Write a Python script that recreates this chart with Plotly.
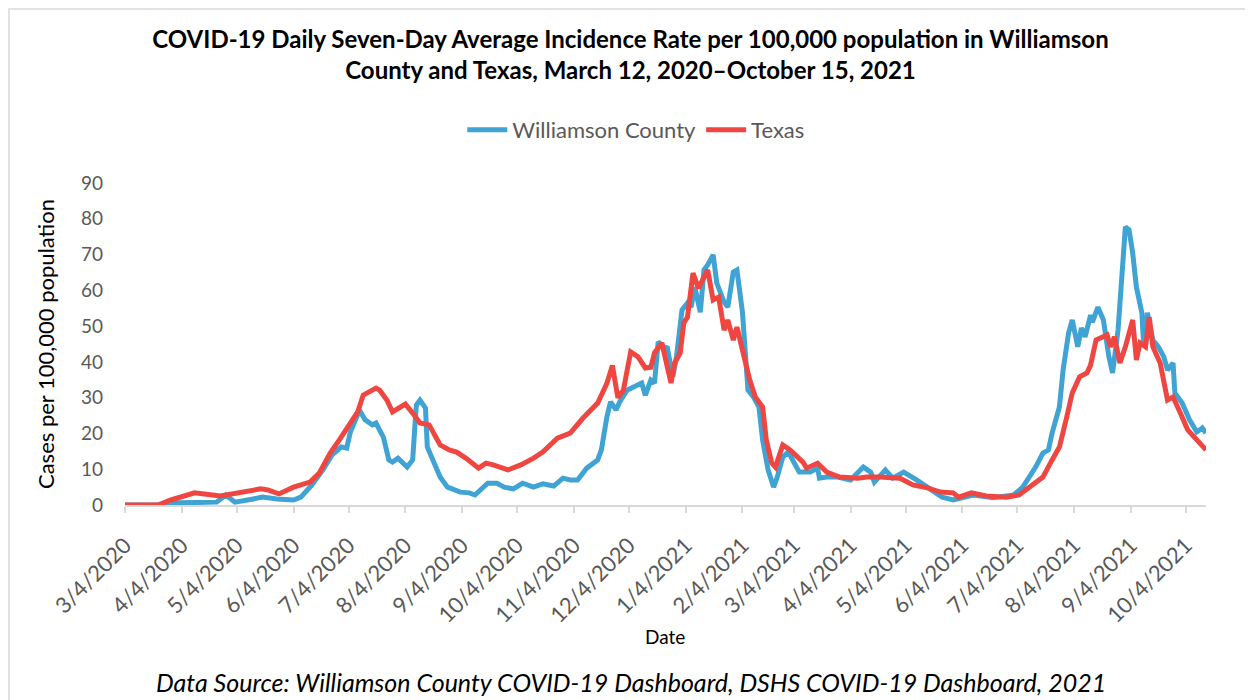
import plotly.graph_objects as go

# Williamson County, 7-day avg incidence per 100k
wc_dates = ['2020-03-04', '2020-03-25', '2020-04-01', '2020-04-16', '2020-04-23', '2020-04-28', '2020-05-03',
            '2020-05-13', '2020-05-18', '2020-05-26', '2020-06-04', '2020-06-08', '2020-06-14', '2020-06-20',
            '2020-06-25', '2020-06-30', '2020-07-03', '2020-07-05', '2020-07-10', '2020-07-13', '2020-07-17',
            '2020-07-19', '2020-07-23', '2020-07-26', '2020-07-28', '2020-07-31', '2020-08-05', '2020-08-08',
            '2020-08-10', '2020-08-12', '2020-08-15', '2020-08-16', '2020-08-18', '2020-08-23', '2020-08-27',
            '2020-09-03', '2020-09-08', '2020-09-11', '2020-09-18', '2020-09-23', '2020-09-27', '2020-10-02',
            '2020-10-07', '2020-10-13', '2020-10-18', '2020-10-24', '2020-10-29', '2020-11-02', '2020-11-06',
            '2020-11-11', '2020-11-17', '2020-11-19', '2020-11-22', '2020-11-24', '2020-11-27', '2020-11-29',
            '2020-12-03', '2020-12-09', '2020-12-11', '2020-12-13', '2020-12-16', '2020-12-18', '2020-12-20',
            '2020-12-23', '2020-12-25', '2020-12-28', '2020-12-30', '2021-01-02', '2021-01-05', '2021-01-07',
            '2021-01-09', '2021-01-12', '2021-01-14', '2021-01-16', '2021-01-19', '2021-01-21', '2021-01-25',
            '2021-01-27', '2021-01-30', '2021-02-01', '2021-02-03', '2021-02-04', '2021-02-07', '2021-02-10',
            '2021-02-13', '2021-02-15', '2021-02-18', '2021-02-21', '2021-02-23', '2021-02-26', '2021-03-01',
            '2021-03-07', '2021-03-13', '2021-03-17', '2021-03-18', '2021-03-22', '2021-03-28', '2021-04-04',
            '2021-04-11', '2021-04-15', '2021-04-17', '2021-04-23', '2021-04-27', '2021-05-03', '2021-05-10',
            '2021-05-17', '2021-05-24', '2021-05-30', '2021-06-10', '2021-06-21', '2021-07-02', '2021-07-07',
            '2021-07-10', '2021-07-14', '2021-07-18', '2021-07-21', '2021-07-23', '2021-07-27', '2021-07-29',
            '2021-08-01', '2021-08-03', '2021-08-06', '2021-08-08', '2021-08-10', '2021-08-13', '2021-08-14',
            '2021-08-17', '2021-08-20', '2021-08-23', '2021-08-25', '2021-08-28', '2021-08-30', '2021-09-01',
            '2021-09-03', '2021-09-05', '2021-09-07', '2021-09-10', '2021-09-11', '2021-09-13', '2021-09-16',
            '2021-09-19', '2021-09-22', '2021-09-24', '2021-09-27', '2021-09-28', '2021-10-02', '2021-10-06',
            '2021-10-10', '2021-10-13', '2021-10-15']
wc_values = [0.0, 0.0, 0.6, 0.6, 0.8, 2.8, 0.8,
             1.7, 2.2, 1.7, 1.4, 2.2, 5.6, 9.8,
             14.0, 16.2, 15.9, 20.4, 26.5, 23.8, 22.4,
             22.9, 19.0, 12.6, 12.0, 13.1, 10.6, 12.6,
             27.9, 29.3, 27.1, 16.2, 14.0, 7.8, 5.0,
             3.6, 3.4, 2.8, 6.1, 6.1, 5.0, 4.5,
             6.1, 5.0, 5.9, 5.3, 7.5, 7.0, 7.0,
             10.3, 12.6, 15.4, 24.6, 28.8, 26.6, 28.8,
             32.1, 33.5, 34.1, 30.7, 34.9, 34.1, 45.6,
             44.2, 43.9, 35.8, 41.4, 54.5, 56.5, 55.3,
             60.9, 53.9, 65.7, 67.1, 69.9, 62.0, 56.7,
             55.3, 65.1, 65.7, 57.3, 53.9, 32.1, 30.2,
             27.4, 18.2, 9.8, 5.0, 7.8, 13.4, 14.8,
             9.2, 9.2, 10.3, 7.5, 7.8, 7.8, 7.0,
             10.6, 9.2, 6.4, 9.8, 7.5, 9.2, 7.0,
             4.8, 2.2, 1.4, 2.8, 2.0, 2.8, 5.0,
             7.3, 10.6, 14.5, 15.4, 20.1, 27.4, 37.7,
             48.1, 51.7, 44.2, 49.5, 47.0, 53.1, 51.1,
             55.3, 51.7, 41.4, 36.9, 48.9, 62.0, 77.7,
             76.9, 70.4, 60.9, 53.7, 44.2, 53.7, 46.1,
             44.2, 41.4, 37.7, 39.7, 31.3, 28.5, 23.8,
             20.4, 21.5, 20.1]

# Texas
tx_dates = ['2020-03-04', '2020-03-22', '2020-03-29', '2020-04-11', '2020-04-25', '2020-05-06', '2020-05-17',
            '2020-05-21', '2020-05-27', '2020-06-04', '2020-06-13', '2020-06-18', '2020-06-24', '2020-06-29',
            '2020-07-05', '2020-07-09', '2020-07-12', '2020-07-19', '2020-07-21', '2020-07-25', '2020-07-28',
            '2020-08-04', '2020-08-08', '2020-08-12', '2020-08-17', '2020-08-23', '2020-08-28', '2020-09-01',
            '2020-09-06', '2020-09-13', '2020-09-17', '2020-09-21', '2020-09-29', '2020-10-06', '2020-10-13',
            '2020-10-18', '2020-10-26', '2020-11-02', '2020-11-09', '2020-11-17', '2020-11-22', '2020-11-25',
            '2020-11-28', '2020-12-01', '2020-12-05', '2020-12-09', '2020-12-13', '2020-12-16', '2020-12-18',
            '2020-12-22', '2020-12-27', '2020-12-29', '2021-01-01', '2021-01-03', '2021-01-05', '2021-01-08',
            '2021-01-11', '2021-01-16', '2021-01-19', '2021-01-22', '2021-01-25', '2021-01-27', '2021-01-30',
            '2021-02-01', '2021-02-04', '2021-02-08', '2021-02-11', '2021-02-15', '2021-02-17', '2021-02-20',
            '2021-02-22', '2021-02-26', '2021-03-02', '2021-03-04', '2021-03-09', '2021-03-11', '2021-03-17',
            '2021-03-22', '2021-03-29', '2021-04-08', '2021-04-13', '2021-04-20', '2021-05-01', '2021-05-08',
            '2021-05-16', '2021-05-23', '2021-05-30', '2021-06-02', '2021-06-09', '2021-06-17', '2021-06-28',
            '2021-07-05', '2021-07-11', '2021-07-18', '2021-07-23', '2021-07-27', '2021-07-31', '2021-08-03',
            '2021-08-07', '2021-08-11', '2021-08-13', '2021-08-16', '2021-08-22', '2021-08-24', '2021-08-26',
            '2021-08-29', '2021-09-01', '2021-09-05', '2021-09-07', '2021-09-09', '2021-09-12', '2021-09-14',
            '2021-09-16', '2021-09-20', '2021-09-24', '2021-09-27', '2021-10-01', '2021-10-05', '2021-10-10',
            '2021-10-15']
tx_values = [0.0, 0.0, 1.4, 3.4, 2.5, 3.4, 4.5,
             4.2, 3.1, 5.0, 6.4, 8.9, 14.5, 18.2,
             23.2, 26.0, 30.7, 32.7, 32.1, 29.3, 26.0,
             28.2, 25.7, 22.9, 22.4, 16.8, 15.4, 14.8,
             13.1, 10.3, 11.7, 11.2, 9.8, 11.2, 13.1,
             14.8, 18.7, 20.1, 24.3, 28.5, 34.0, 39.0,
             30.0, 32.1, 42.8, 41.4, 38.3, 38.5, 42.5,
             45.3, 34.1, 39.7, 42.5, 50.9, 52.5, 64.8,
             60.6, 65.7, 57.3, 58.1, 48.9, 51.7, 46.1,
             49.7, 43.3, 34.9, 30.2, 27.4, 18.2, 11.7,
             10.6, 16.8, 15.4, 14.5, 12.0, 10.3, 11.7,
             9.2, 7.8, 7.5, 7.8, 7.8, 7.5, 5.6,
             4.8, 3.6, 3.4, 2.2, 3.4, 2.5, 2.2,
             2.8, 5.0, 7.8, 12.6, 16.2, 24.6, 31.3,
             35.8, 36.9, 39.1, 46.1, 47.5, 44.2, 47.0,
             39.7, 44.2, 51.7, 40.5, 45.3, 44.2, 52.5,
             44.2, 39.7, 29.3, 30.2, 25.7, 21.0, 18.2,
             15.4]

tick_dates = ['2020-03-04', '2020-04-04', '2020-05-04', '2020-06-04', '2020-07-04', '2020-08-04', '2020-09-04',
              '2020-10-04', '2020-11-04', '2020-12-04', '2021-01-04', '2021-02-04', '2021-03-04', '2021-04-04',
              '2021-05-04', '2021-06-04', '2021-07-04', '2021-08-04', '2021-09-04', '2021-10-04']
tick_labels = ['3/4/2020', '4/4/2020', '5/4/2020', '6/4/2020', '7/4/2020', '8/4/2020', '9/4/2020',
               '10/4/2020', '11/4/2020', '12/4/2020', '1/4/2021', '2/4/2021', '3/4/2021', '4/4/2021',
               '5/4/2021', '6/4/2021', '7/4/2021', '8/4/2021', '9/4/2021', '10/4/2021']

font = 'Lato'
grey = '#595959'

fig = go.Figure()
fig.add_trace(go.Scatter(x=wc_dates, y=wc_values, mode='lines', name='Williamson County',
                         line=dict(color='#3FA3D4', width=5)))
fig.add_trace(go.Scatter(x=tx_dates, y=tx_values, mode='lines', name='Texas',
                         line=dict(color='#EF4641', width=5)))

# page body adds 8px, so the figure is 8px smaller than the window
fig.update_layout(
    width=1245, height=692,
    margin=dict(l=117, r=47, t=175, b=195),
    paper_bgcolor='white', plot_bgcolor='white',
    font=dict(family=font, color=grey),
    title=dict(text='<b>COVID-19 Daily Seven-Day Average Incidence Rate per 100,000 population in Williamson<br>'
                    'County and Texas, March 12, 2020–October 15, 2021</b>',
               x=0.5, xanchor='center', y=0.942, yanchor='top',
               font=dict(family=font, size=24, color='black')),
    legend=dict(orientation='h', x=0.473, xanchor='center', y=1.165, yanchor='middle',
                font=dict(size=22, color=grey), itemwidth=40, bgcolor='rgba(0,0,0,0)'),
    showlegend=True,
)

fig.update_xaxes(type='date', range=['2020-03-04', '2021-10-15'],
                 tickvals=tick_dates, ticktext=tick_labels, tickangle=-45,
                 tickfont=dict(size=22, color=grey), ticklabelstandoff=11,
                 showgrid=False, showline=True, linecolor='#d9d9d9', linewidth=1.5,
                 ticks='outside', tickcolor='#d9d9d9', ticklen=6, tickwidth=1.5, zeroline=False)
fig.update_yaxes(range=[0, 90], dtick=10, showgrid=False, showline=False, zeroline=False,
                 tickfont=dict(size=19, color=grey), ticks='', ticklabelstandoff=21)

# axis titles, source note and outer border
fig.add_annotation(text='Cases per 100,000 population', xref='paper', yref='paper', x=-0.074, y=0.5,
                   xanchor='center', yanchor='middle', textangle=-90, showarrow=False,
                   font=dict(size=22, color='black'))
fig.add_annotation(text='Date', xref='paper', yref='paper', x=0.4995, y=-0.407,
                   xanchor='center', yanchor='middle', showarrow=False, font=dict(size=19, color='black'))
fig.add_annotation(text='<i>Data Source: Williamson County COVID-19 Dashboard, DSHS COVID-19 Dashboard, 2021</i>',
                   xref='paper', yref='paper', x=0.468, y=-0.55, xanchor='center', yanchor='middle',
                   showarrow=False, font=dict(size=25, color='black'))
fig.add_shape(type='rect', xref='paper', yref='paper', x0=-0.1073, x1=1.0398, y0=-0.61, y1=1.540,
              line=dict(color='#d9d9d9', width=1.5))

fig.write_html('out.html')
